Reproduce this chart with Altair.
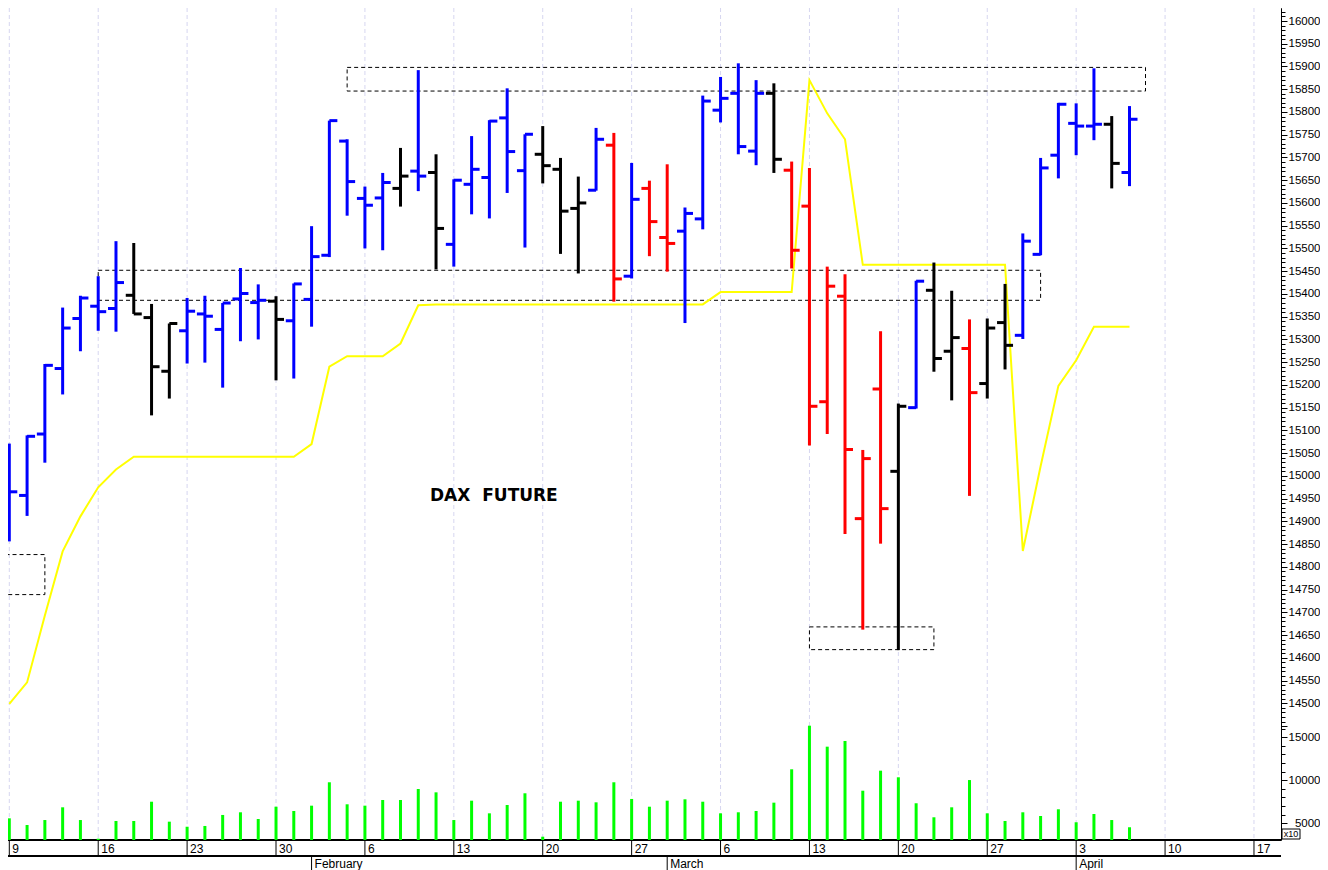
import altair as alt
import pandas as pd

# ---------------- data ----------------
DATES = [d.strftime("%Y-%m-%d") for d in pd.bdate_range("2023-01-09", "2023-04-06")]

OPEN = [14906, 14957, 15092, 15236, 15346, 15373, 15368, 15397, 15348, 15230,
        15319, 15356, 15322, 15389, 15381, 15384, 15341, 15388, 15485, 15736,
        15610, 15611, 15632, 15670, 15667, 15509, 15641, 15656, 15787, 15671,
        15707, 15674, 15588, 15628, 15727, 15439, 15632, 15524, 15538, 15565,
        15804, 15841, 15714, 15841, 15672, 15593, 15163, 15395, 14906, 15191,
        15010, 15150, 15408, 15274, 15280, 15203, 15337, 15309, 15487, 15705,
        15775, 15769, 15773, 15667]
HIGH = [15071, 15089, 15246, 15370, 15396, 15439, 15516, 15512, 15378, 15335,
        15391, 15396, 15380, 15457, 15421, 15395, 15423, 15549, 15781, 15740,
        15636, 15666, 15721, 15892, 15707, 15652, 15747, 15782, 15852, 15751,
        15769, 15699, 15658, 15765, 15754, 15688, 15649, 15685, 15590, 15836,
        15877, 15907, 15870, 15863, 15691, 15677, 15460, 15443, 15057, 15318,
        15159, 15429, 15469, 15407, 15344, 15346, 15422, 15533, 15699, 15820,
        15819, 15896, 15791, 15813]
LOW = [14856, 14912, 15029, 15179, 15274, 15319, 15317, 15356, 15133, 15170,
       15247, 15249, 15194, 15296, 15300, 15210, 15214, 15328, 15481, 15572,
       15500, 15496, 15592, 15626, 15454, 15460, 15575, 15566, 15622, 15502,
       15643, 15488, 15445, 15627, 15383, 15434, 15483, 15449, 15336, 15542,
       15777, 15707, 15683, 15666, 15456, 15067, 15092, 14872, 14662, 14851,
       14617, 15148, 15229, 15166, 14956, 15170, 15234, 15301, 15485, 15654,
       15705, 15738, 15632, 15637]
CLOSE = [14965, 15087, 15243, 15325, 15391, 15361, 15425, 15356, 15240, 15335,
         15362, 15351, 15380, 15401, 15386, 15344, 15422, 15482, 15781, 15647,
         15595, 15645, 15659, 15659, 15544, 15650, 15674, 15780, 15713, 15751,
         15682, 15582, 15600, 15740, 15433, 15608, 15559, 15511, 15577, 15824,
         15830, 15724, 15841, 15696, 15496, 15153, 15417, 15058, 15038, 14928,
         15153, 15428, 15258, 15304, 15183, 15325, 15287, 15516, 15677, 15817,
         15769, 15773, 15687, 15784]
# B = blue, K = black, R = red
TREND = ["B", "B", "B", "B", "B", "B", "B", "K", "K", "K",
         "B", "B", "B", "B", "B", "K", "B", "B", "B", "B",
         "B", "B", "K", "B", "K", "B", "B", "B", "B", "B",
         "K", "K", "K", "B", "R", "B", "R", "R", "B", "B",
         "B", "B", "B", "K", "R", "R", "R", "R", "R", "R",
         "K", "B", "K", "K", "R", "K", "K", "B", "B", "B",
         "B", "B", "K", "B"]
VOLUME = [5580, 4800, 5380, 6860, 5380, 3210, 5270, 5270, 7510, 5190,
          4600, 4690, 5970, 6280, 5500, 6930, 6430, 7050, 9770, 7210,
          7050, 7710, 7710, 8990, 8600, 5380, 7630, 6160, 7130, 8490,
          3440, 7510, 7630, 7440, 9770, 7830, 6930, 7630, 7790, 7510,
          6160, 6280, 6430, 7400, 11280, 16350, 13910, 14570, 8790, 11120,
          10350, 7330, 5700, 6860, 10030, 6160, 5270, 6280, 5850, 6630,
          5120, 6080, 5380, 4540]
STOP_LINE = [14499, 14546, 14693, 14834, 14911, 14975, 15014, 15042, 15042, 15042,
             15042, 15042, 15042, 15042, 15042, 15042, 15042, 15070, 15240, 15263,
             15263, 15263, 15291, 15375, 15377, 15377, 15377, 15377, 15377, 15377,
             15377, 15377, 15377, 15377, 15377, 15377, 15377, 15377, 15377, 15377,
             15404, 15404, 15404, 15404, 15404, 15870, 15797, 15740, 15464, 15464,
             15464, 15464, 15464, 15464, 15464, 15464, 15464, 14835, 15021, 15198,
             15254, 15328, 15328, 15328]

WEEK_POS = [0, 5, 10, 15, 20, 25, 30, 35, 40, 45, 50, 55, 60, 65, 70]
WEEK_LABELS = ["9", "16", "23", "30", "6", "13", "20", "27", "6", "13", "20", "27", "3", "10", "17"]
MONTH_POS = [17, 37, 60]
MONTH_LABELS = ["February", "March", "April"]

ZONE_X1 = [19, 5, -1, 45]
ZONE_X2 = [63.9, 58, 2, 52]
ZONE_HI = [15898, 15452, 14827, 14668]
ZONE_LO = [15846, 15386, 14739, 14618]

TITLE_X = [23.66]
TITLE_Y = [14945]

PRICE_TICKS = list(range(14450, 16030, 10))
VOL_TICKS = list(range(4000, 17000, 1000))

PRICE_DOMAIN = [14199.5, 16028.6]
VOL_DOMAIN = [3058, 99803]
X_DOMAIN = [-0.073, 71.52]
W, H = 1273, 832
RIGHT_PAD = 39          # keeps the whole svg 1312 px wide (page width minus margins)
TICK_HALF = 0.45

# ---------------- tables ----------------
df = pd.DataFrame({
    "i": list(range(len(OPEN))), "date": DATES, "open": OPEN, "high": HIGH,
    "low": LOW, "close": CLOSE, "trend": TREND, "vol": VOLUME, "stop": STOP_LINE,
})
weeks = pd.DataFrame({"pos": WEEK_POS, "label": WEEK_LABELS})
months = pd.DataFrame({"pos": MONTH_POS, "label": MONTH_LABELS})
zones = pd.DataFrame({"x1": ZONE_X1, "x2": ZONE_X2, "hi": ZONE_HI, "lo": ZONE_LO})
title_df = pd.DataFrame({"x": TITLE_X, "y": TITLE_Y})

xs = alt.Scale(domain=X_DOMAIN, nice=False, zero=False)
ps = alt.Scale(domain=PRICE_DOMAIN, nice=False, zero=False)
vs = alt.Scale(domain=VOL_DOMAIN, nice=False, zero=False)
FONT = "Liberation Sans"

color = alt.Color("trend:N", legend=None,
                  scale=alt.Scale(domain=["B", "K", "R"], range=["#0000ff", "#000000", "#ff0000"]))

price_axis = alt.Axis(
    orient="right", values=PRICE_TICKS, title=None, grid=False,
    labelExpr="(datum.value % 50 == 0 && datum.value >= 14500 && datum.value <= 16000) ? format(datum.value, 'd') : ''",
    tickSize={"condition": {"test": "datum.value % 50 == 0", "value": 6}, "value": 4},
    labelFont=FONT, labelFontSize=11.5, labelColor="black", labelPadding=1,
    tickColor="black", domainColor="black", labelOverlap=False, labelFlush=False,
)
vol_axis = alt.Axis(
    orient="right", values=VOL_TICKS, title=None, grid=False,
    labelExpr="datum.value % 5000 == 0 ? format(datum.value, 'd') : ''",
    tickSize={"condition": {"test": "datum.value % 5000 == 0", "value": 6}, "value": 4},
    labelFont=FONT, labelFontSize=11.5, labelColor="black", labelPadding=33, labelAlign="right",
    tickColor="black", domainColor="black", labelOverlap=False, labelFlush=False,
)


def PY(field):
    return alt.Y(field, scale=ps, axis=price_axis)


X = alt.X("i:Q", scale=xs, axis=None)

grid = alt.Chart(weeks).mark_rule(color="#d6d6f0", strokeDash=[4, 3], strokeWidth=1).encode(
    x=alt.X("pos:Q", scale=xs, axis=None), y=alt.value(0), y2=alt.value(H))

zone_rects = alt.Chart(zones).mark_rect(
    fillOpacity=0, stroke="black", strokeWidth=1, strokeDash=[4, 3], clip=True).encode(
    x=alt.X("x1:Q", scale=xs, axis=None), x2="x2:Q", y=PY("hi:Q"), y2="lo:Q")

stop = alt.Chart(df).mark_line(color="#ffff00", strokeWidth=2, clip=True).encode(
    x=X, y=PY("stop:Q"))

hl = alt.Chart(df).mark_rule(strokeWidth=3, clip=True).encode(
    x=X, y=PY("low:Q"), y2="high:Q", color=color)

open_t = alt.Chart(df).transform_calculate(xo=f"datum.i - {TICK_HALF}").mark_rule(
    strokeWidth=3, clip=True).encode(
    x=alt.X("xo:Q", scale=xs, axis=None), x2="i:Q", y=PY("open:Q"), color=color)

close_t = alt.Chart(df).transform_calculate(xc=f"datum.i + {TICK_HALF}").mark_rule(
    strokeWidth=3, clip=True).encode(
    x=X, x2="xc:Q", y=PY("close:Q"), color=color)

title = alt.Chart(title_df).mark_text(
    text="DAX\u00a0\u00a0FUTURE", font="DejaVu Sans", fontSize=17, fontWeight="bold",
    align="left", baseline="alphabetic", color="black").encode(
    x=alt.X("x:Q", scale=xs, axis=None), y=PY("y:Q"))

# bottom date axis
line1 = alt.Chart(weeks).mark_rule(color="black").encode(
    x=alt.value(0), x2=alt.value(W), y=alt.value(H))
line2 = alt.Chart(weeks).mark_rule(color="black").encode(
    x=alt.value(0), x2=alt.value(W), y=alt.value(H + 16))
week_ticks = alt.Chart(weeks).mark_rule(color="black").encode(
    x=alt.X("pos:Q", scale=xs, axis=None), y=alt.value(H), y2=alt.value(H + 16))
week_text = alt.Chart(weeks).mark_text(
    align="left", baseline="middle", dx=3, font=FONT, fontSize=12, color="black").encode(
    x=alt.X("pos:Q", scale=xs, axis=None), y=alt.value(H + 8.5), text="label:N")
month_ticks = alt.Chart(months).mark_rule(color="black").encode(
    x=alt.X("pos:Q", scale=xs, axis=None), y=alt.value(H + 16), y2=alt.value(H + 30))
month_text = alt.Chart(months).mark_text(
    align="left", baseline="middle", dx=3, font=FONT, fontSize=12, color="black").encode(
    x=alt.X("pos:Q", scale=xs, axis=None), y=alt.value(H + 24), text="label:N")

x10_box = alt.Chart(title_df).mark_rect(fill="white", stroke="black", strokeWidth=1).encode(
    x=alt.value(W + 1), x2=alt.value(W + 19), y=alt.value(H - 11), y2=alt.value(H - 1))
x10_text = alt.Chart(title_df).mark_text(
    text="x10", font=FONT, fontSize=9, color="black", align="center", baseline="middle").encode(
    x=alt.value(W + 10), y=alt.value(H - 6))

price = alt.layer(grid, zone_rects, stop, hl, open_t, close_t, title,
                  line1, line2, week_ticks, week_text, month_ticks, month_text,
                  x10_box, x10_text)

vol = alt.Chart(df).mark_rule(color="#00ff00", strokeWidth=3).encode(
    x=X, y=alt.Y("vol:Q", scale=vs, axis=vol_axis), y2=alt.value(H))

chart = alt.layer(price, vol).resolve_scale(y="independent").properties(
    width=W, height=H, background="white",
    autosize=alt.AutoSizeParams(type="none"),
    padding={"left": 0, "top": 0, "right": RIGHT_PAD, "bottom": 30},
).configure_view(stroke=None)

chart.save("out.html", embed_options={"renderer": "svg", "actions": False})
